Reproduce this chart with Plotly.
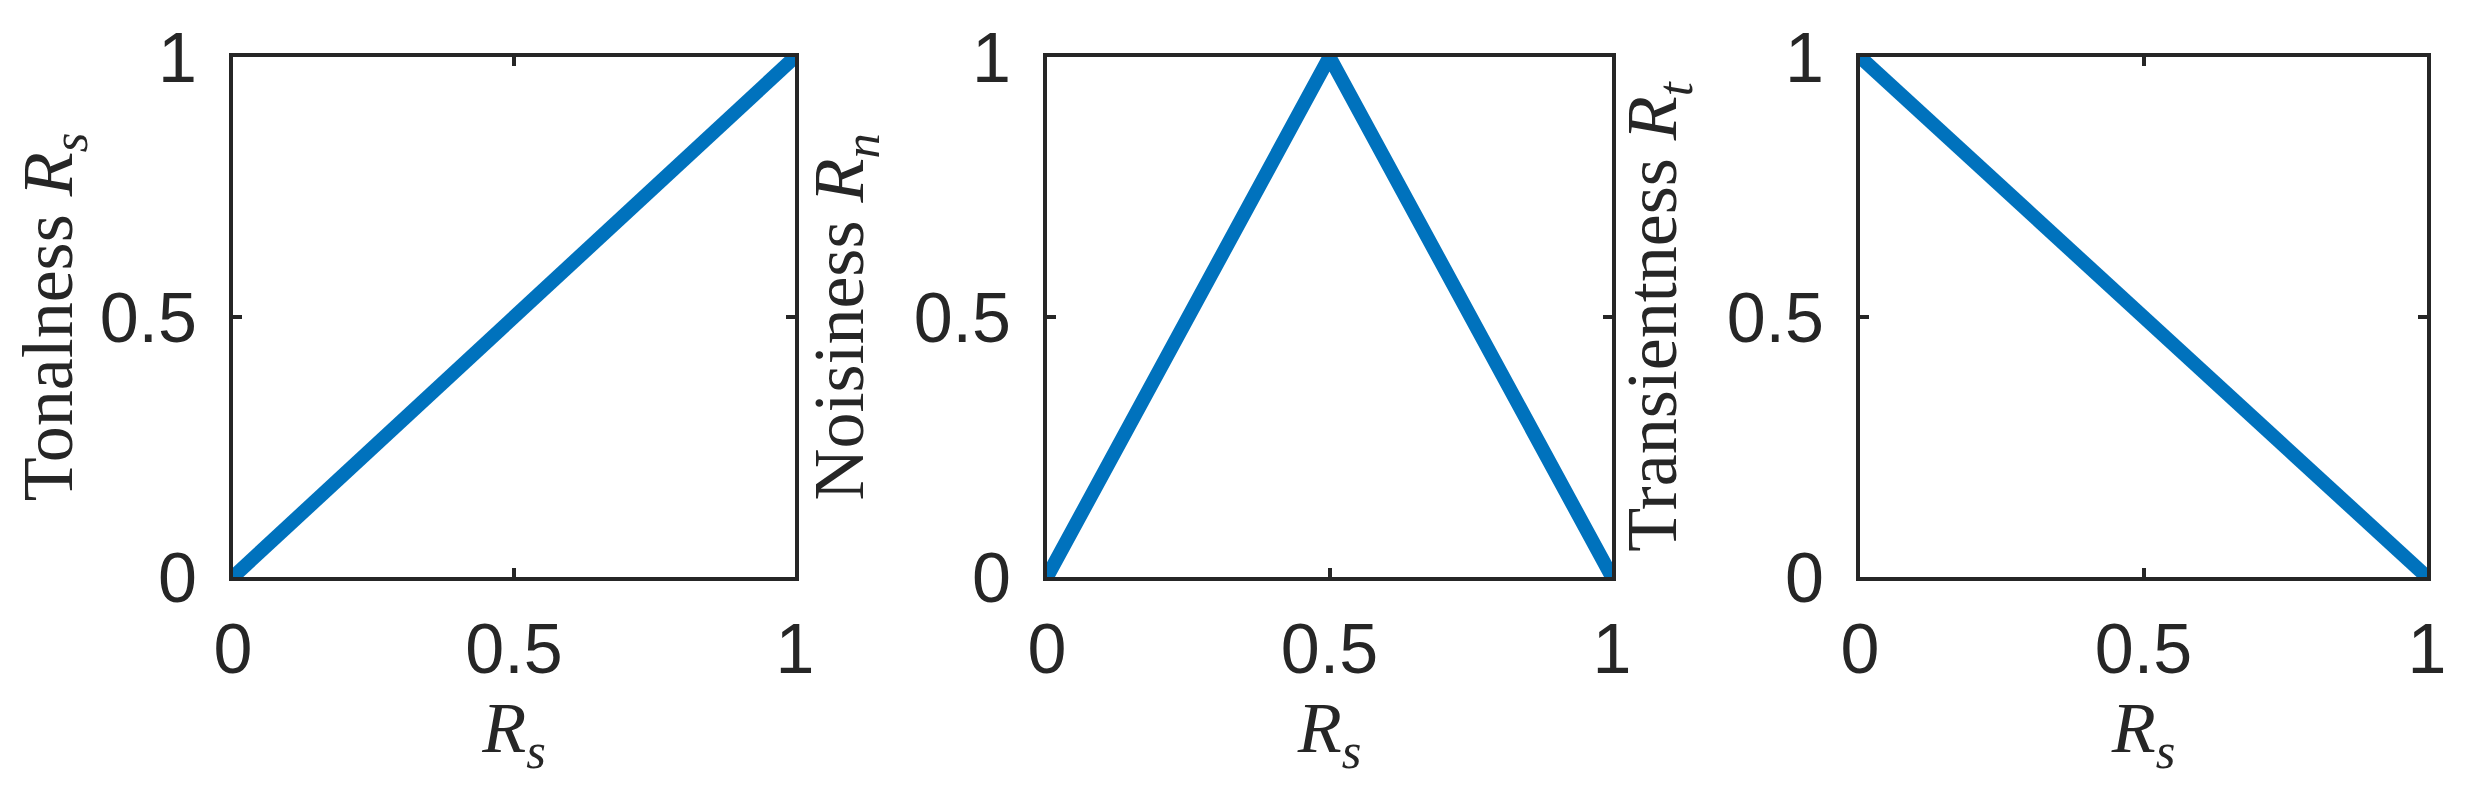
import plotly.graph_objects as go

# Data
rs = [0, 0.5, 1]
tonalness = [0, 0.5, 1]
noisiness = [0, 1, 0]
transientness = [1, 0.5, 0]

tick_vals = [0, 0.5, 1]
tick_text = ["0", "0.5", "1"]

ylabels = [
    "Tonalness <i>R</i><sub><i>s</i></sub>",
    "Noisiness <i>R</i><sub><i>n</i></sub>",
    "Transientness <i>R</i><sub><i>t</i></sub>",
]
xlabel = "<i>R</i><sub><i>s</i></sub>"
series = [tonalness, noisiness, transientness]

# page has an 8px body margin; size the figure so it fills the 2466x790 window
PAD = 8
W, H = 2466 - 2 * PAD, 790 - 2 * PAD
xdoms_px = [(233, 795), (1047, 1612), (1860, 2427)]
ydom_px = (57, 577)

BLUE = "#0072BD"
INK = "#262626"
SERIF = "Liberation Serif, serif"

fig = go.Figure()
for i, ys in enumerate(series):
    n = "" if i == 0 else str(i + 1)
    fig.add_trace(go.Scatter(
        x=rs, y=ys, mode="lines",
        line=dict(color=BLUE, width=14),
        xaxis="x" + n, yaxis="y" + n, showlegend=False, hoverinfo="skip",
    ))
    common = dict(
        range=[0, 1], tickvals=tick_vals, ticktext=tick_text,
        showgrid=False, zeroline=False, automargin=False,
        showline=True, linecolor=INK, linewidth=4, mirror="ticks",
        ticks="inside", ticklen=9, tickwidth=4, tickcolor=INK,
        tickfont=dict(family="Liberation Sans, Arial, sans-serif", size=70, color=INK),
        layer="below traces",
    )
    fig.update_layout(**{
        "xaxis" + n: dict(
            common,
            domain=[(xdoms_px[i][0] - PAD) / W, (xdoms_px[i][1] - PAD) / W],
            anchor="y" + n,
            ticklabelstandoff=8,
            title=dict(text=xlabel, standoff=16,
                       font=dict(family=SERIF, size=72, color=INK)),
        ),
        "yaxis" + n: dict(
            common,
            domain=[1 - (ydom_px[1] - PAD) / H, 1 - (ydom_px[0] - PAD) / H],
            anchor="x" + n,
            ticklabelstandoff=18,
            title=dict(text=ylabels[i], standoff=27,
                       font=dict(family=SERIF, size=72, color=INK)),
        ),
    })

fig.update_layout(
    width=W, height=H,
    margin=dict(l=0, r=0, t=0, b=0),
    paper_bgcolor="white", plot_bgcolor="white",
)

fig.write_html("out.html")
